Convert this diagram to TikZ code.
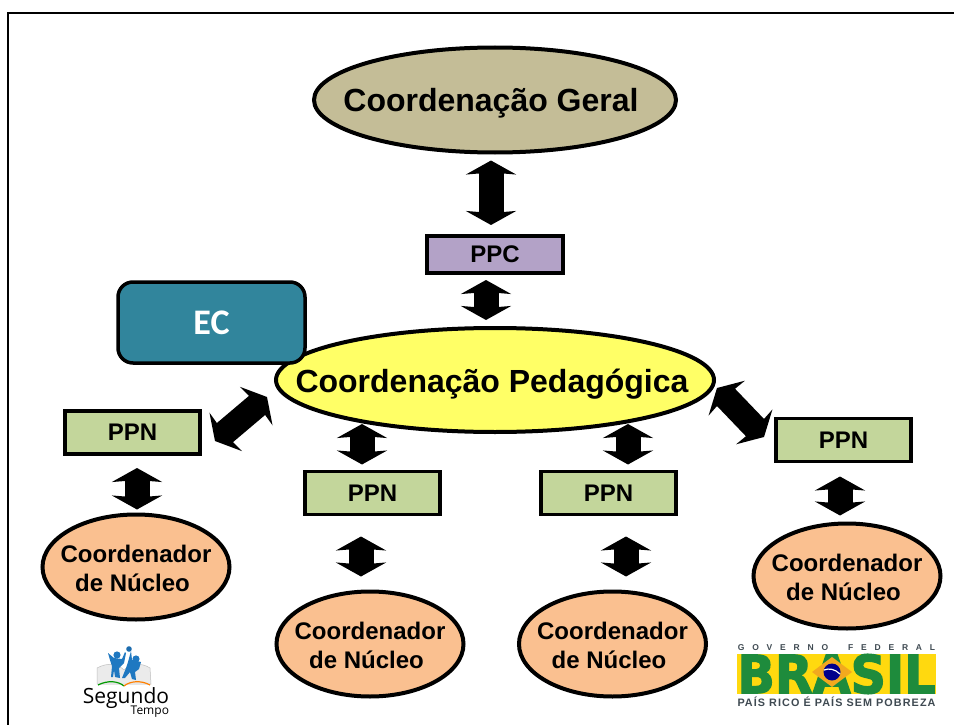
\documentclass[tikz,border=0pt]{standalone}
\usepackage{fontspec}
\usepackage{graphicx}
\setmainfont{Liberation Sans}
\newfontfamily\ecfont{Carlito}
\newfontfamily\stfont{Open Sans}
\newfontfamily\brfont{DejaVu Sans}
\usetikzlibrary{arrows.meta,shapes.geometric,calc}
\definecolor{cgfill}{HTML}{C4BD97}
\definecolor{ppcfill}{HTML}{B3A2C7}
\definecolor{pedfill}{HTML}{FFFF66}
\definecolor{ecfill}{HTML}{31859C}
\definecolor{ppnfill}{HTML}{C3D69B}
\definecolor{corfill}{HTML}{FAC090}
\definecolor{stblue}{HTML}{1F78C1}
\definecolor{brgreen}{HTML}{1E8B3C}
\definecolor{bryellow}{HTML}{FFD90F}
\definecolor{brdiamond}{HTML}{F2A91E}
\definecolor{brgray}{HTML}{3F4A52}
\newcommand{\placedtext}[3]{\raisebox{-#2}[0pt][0pt]{\makebox[0pt]{\hspace*{#1}#3}}}
\newcommand{\corlabel}{\rule{0pt}{20.5pt}Coordenador\\de Núcleo\hspace*{7pt}}
\tikzset{
  oval/.style={ellipse,draw=black,line width=4pt,inner ysep=0pt,inner xsep=-45pt,outer sep=0pt,align=center,font=\bfseries},
  bluebox/.style={rectangle,draw=black,line width=3.5pt,inner sep=0pt,outer sep=0pt,align=center,font=\fontsize{24}{26}\selectfont\bfseries},
  ppnbox/.style={bluebox,fill=ppnfill,minimum width=135pt,minimum height=43pt},
  coord/.style={oval,fill=corfill,minimum width=187pt,minimum height=105pt,font=\fontsize{24}{29}\selectfont\bfseries},
  blockarrow/.style={line width=25pt,black,{Stealth[inset=2pt,length=14pt,width=50pt]}-{Stealth[inset=2pt,length=14pt,width=50pt]}},
  textlabel/.style={inner sep=0pt,outer sep=0pt}
}
\begin{document}
\begin{tikzpicture}[x=1pt,y=-1pt]
\useasboundingbox (0,0) rectangle (954,725);
\fill[white] (0,0) rectangle (954,725);
\draw[line width=2.5pt] (8,725) -- (8,13) -- (954,13);

\node[oval,fill=cgfill,minimum width=362pt,minimum height=105pt,font=\fontsize{32}{36}\selectfont\bfseries] (cg) at (495,100) {\placedtext{-8pt}{12pt}{Coordenação Geral}};
\node[bluebox,fill=ppcfill,minimum width=136pt,minimum height=37pt] (ppc) at (495,254.5) {PPC};
\node[oval,fill=pedfill,minimum width=438pt,minimum height=104pt,font=\fontsize{32}{36}\selectfont\bfseries] (ped) at (495,380) {\placedtext{-6pt}{12pt}{Coordenação Pedagógica}};
\node[rectangle,rounded corners=15pt,draw=black,line width=3.5pt,fill=ecfill,text=white,minimum width=187pt,minimum height=81pt,inner sep=0pt,outer sep=0pt,font=\ecfont\fontsize{36}{40}\selectfont\bfseries] (ec) at (211.5,322.5) {EC};

\node[ppnbox] (ppnA) at (132.5,432.5) {PPN};
\node[ppnbox] (ppnB) at (372.5,493) {PPN};
\node[ppnbox] (ppnC) at (608.5,493) {PPN};
\node[ppnbox] (ppnD) at (843.5,440) {PPN};

\node[coord] (corA) at (136,567) {\corlabel};
\node[coord] (corB) at (370,644) {\corlabel};
\node[coord] (corC) at (612.5,644) {\corlabel};
\node[coord] (corD) at (847,576) {\corlabel};

\draw[blockarrow] ($(cg.south)+(-4,8)$) -- ($(ppc.north)+(-4,-11)$);
\draw[blockarrow] ($(ppc.south)+(-9,7)$) -- ($(ped.north)+(-9,-8)$);
\draw[blockarrow] ($(ppnA.east)+(15,8.5)$) -- ($(ped.west)+(-9,17)$);
\draw[blockarrow] ($(ped.east)+(3,8)$) -- ($(ppnD.west)+(-12,-3)$);
\draw[blockarrow] ($(ped.south)+(-133,-8)$) -- ($(ppnB.north)+(-10.5,-7)$);
\draw[blockarrow] ($(ped.south)+(133,-8)$) -- ($(ppnC.north)+(19.5,-7)$);
\draw[blockarrow] ($(ppnA.south)+(4.5,14)$) -- ($(corA.north)+(1,-5)$);
\draw[blockarrow] ($(ppnB.south)+(-11.5,22)$) -- ($(corB.north)+(-9,-15)$);
\draw[blockarrow] ($(ppnC.south)+(17.5,22)$) -- ($(corC.north)+(13.5,-15)$);
\draw[blockarrow] ($(ppnD.south)+(-3.5,15)$) -- ($(corD.north)+(-7,-8)$);

% Segundo Tempo logo
\fill[black!8] (97,668) .. controls (108,662) and (118,664) .. (124,670) .. controls (130,664) and (141,662) .. (150,668) -- (151,684) -- (97,684) -- cycle;
\draw[black!25,line width=0.5pt] (97,668) .. controls (108,662) and (118,664) .. (124,670) .. controls (130,664) and (141,662) .. (150,668) -- (151,684) -- (97,684) -- cycle;
\draw[line width=1.2pt,green!60!black] (98,685) .. controls (108,680) and (118,681) .. (124,686);
\draw[line width=1.2pt,orange] (124,686) .. controls (130,681) and (141,680) .. (150,685);
\fill[stblue] (117,655) circle (3.6);
\fill[stblue] (136,659) circle (3.6);
\fill[stblue!90!black] (129,649) circle (2.8);
\fill[stblue] (108,653) -- (114,658) -- (122,659) -- (125,652) -- (126,653) -- (124,663) -- (119,668) -- (120,678) -- (115,677) -- (114,670) -- (113,677) -- (111,677) -- (112,666) -- (110,660) -- cycle;
\fill[stblue] (131,651) -- (132,660) -- (141,662) -- (139,669) -- (135,672) -- (136,680) -- (132,679) -- (130,672) -- (125,678) -- (122,678) -- (126,668) -- (128,662) -- cycle;
\node[textlabel,font=\stfont\fontsize{21}{24}\selectfont] (seg) at (126,698) {Segundo};
\node[textlabel,font=\stfont\fontsize{12}{14}\selectfont,anchor=east] (tem) at (169,712) {Tempo};

% Brasil logo
\fill[bryellow] (737,654) rectangle (936,694);
\node[textlabel,text=brgreen,anchor=center] (brs) at (836.5,674) {\resizebox{198pt}{39pt}{\brfont\bfseries\addfontfeature{FakeBold=2.5}BRASIL}};
\fill[brdiamond] (832,657) -- (852,672) -- (832,687) -- (812,672) -- cycle;
\fill[blue!55!black] (832,672) circle (8.5);
\draw[white,line width=1.2pt] (824,670) .. controls (829,668) and (835,669) .. (840,674);
\node[textlabel,text=brgray,font=\fontsize{8.5}{10}\selectfont\bfseries,anchor=center] (gov) at (836.5,647.5) {G\hspace{7.8pt}O\hspace{7.8pt}V\hspace{7.8pt}E\hspace{7.8pt}R\hspace{7.8pt}N\hspace{7.8pt}O\hspace{20pt}F\hspace{7.8pt}E\hspace{7.8pt}D\hspace{7.8pt}E\hspace{7.8pt}R\hspace{7.8pt}A\hspace{7.8pt}L};
\node[textlabel,text=brgray,font=\fontsize{10.8}{12}\selectfont\bfseries,anchor=center] (pais) at (836.5,702) {\addfontfeature{LetterSpace=10}PAÍS RICO É PAÍS SEM POBREZA};
\end{tikzpicture}
\end{document}
